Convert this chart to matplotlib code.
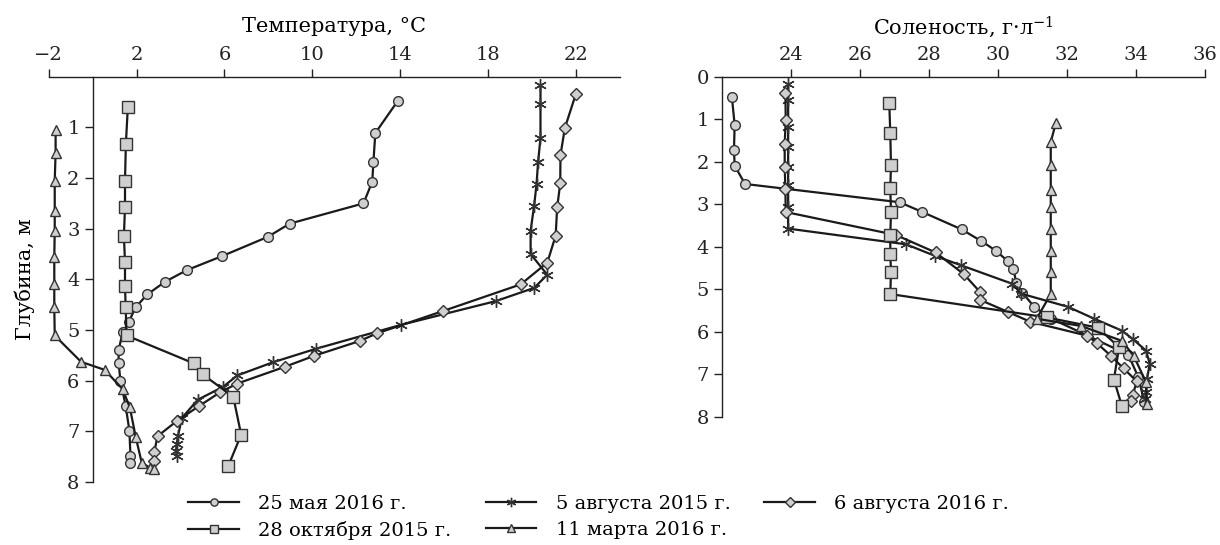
import matplotlib
matplotlib.use("Agg")
import matplotlib.pyplot as plt

plt.rcParams['font.family'] = ['DejaVu Serif']
plt.rcParams['font.size'] = 14
plt.rcParams['mathtext.fontset'] = 'dejavuserif'
plt.rcParams['axes.unicode_minus'] = True

# температура: (T, глубина)
t_may16_T = [13.9, 12.87, 12.78, 12.73, 12.33, 8.97, 7.98, 5.9, 4.28, 3.29, 2.48, 1.96, 1.63, 1.36, 1.18, 1.18, 1.26, 1.5, 1.67, 1.72, 1.72]
t_may16_d = [0.47, 1.11, 1.69, 2.07, 2.5, 2.9, 3.16, 3.54, 3.82, 4.05, 4.3, 4.55, 4.85, 5.05, 5.4, 5.65, 6.0, 6.5, 6.99, 7.5, 7.62]

t_aug15_T = [20.39, 20.39, 20.39, 20.28, 20.21, 20.1, 19.94, 19.94, 20.7, 20.1, 18.36, 14.04, 10.18, 8.2, 6.58, 5.95, 4.78, 4.06, 3.88, 3.83, 3.79, 3.83]
t_aug15_d = [0.16, 0.53, 1.2, 1.69, 2.12, 2.55, 3.04, 3.5, 3.91, 4.17, 4.43, 4.9, 5.37, 5.64, 5.9, 6.12, 6.38, 6.74, 7.1, 7.26, 7.39, 7.49]

t_aug16_T = [22.0, 21.5, 21.3, 21.29, 21.15, 21.08, 20.7, 19.49, 15.93, 12.93, 12.15, 10.09, 8.74, 6.58, 5.81, 4.82, 3.83, 2.95, 2.8, 2.77]
t_aug16_d = [0.34, 1.01, 1.55, 2.1, 2.58, 3.14, 3.67, 4.1, 4.63, 5.07, 5.22, 5.51, 5.73, 6.06, 6.23, 6.51, 6.8, 7.1, 7.42, 7.59]

t_oct15_T = [1.6, 1.51, 1.47, 1.47, 1.42, 1.47, 1.47, 1.5, 1.54, 4.6, 5.01, 6.4, 6.76, 6.18]
t_oct15_d = [0.59, 1.32, 2.05, 2.58, 3.14, 3.66, 4.13, 4.55, 5.11, 5.66, 5.88, 6.32, 7.07, 7.68]

t_mar16_T = [-1.69, -1.69, -1.73, -1.73, -1.73, -1.75, -1.75, -1.75, -1.73, -0.53, 0.55, 1.36, 1.69, 1.96, 2.23, 2.59, 2.77]
t_mar16_d = [1.05, 1.5, 2.05, 2.65, 3.04, 3.56, 4.09, 4.55, 5.11, 5.63, 5.79, 6.17, 6.53, 7.12, 7.62, 7.72, 7.75]

# соленость: (S, глубина)
s_may16_S = [22.28, 22.36, 22.34, 22.36, 22.66, 27.14, 27.8, 28.94, 29.5, 29.93, 30.28, 30.44, 30.52, 30.7, 31.04, 31.54, 33.77, 34.06, 34.23]
s_may16_d = [0.48, 1.13, 1.71, 2.09, 2.52, 2.95, 3.18, 3.59, 3.86, 4.09, 4.34, 4.53, 4.84, 5.08, 5.41, 5.69, 6.54, 7.07, 7.65]

s_aug15_S = [23.91, 23.91, 23.91, 23.91, 23.91, 23.91, 23.91, 23.91, 27.33, 28.16, 28.91, 30.41, 30.66, 32.02, 32.78, 33.58, 33.9, 34.28, 34.39, 34.31, 34.28, 34.25]
s_aug15_d = [0.18, 0.54, 1.17, 1.65, 2.12, 2.54, 3.06, 3.57, 3.94, 4.21, 4.43, 4.87, 5.1, 5.41, 5.69, 5.97, 6.17, 6.44, 6.75, 7.1, 7.42, 7.57]

s_aug16_S = [23.83, 23.84, 23.81, 23.81, 23.83, 23.84, 27.03, 28.18, 29.0, 29.48, 29.48, 30.28, 30.92, 32.58, 32.85, 33.26, 33.63, 34.01, 33.9, 33.85]
s_aug16_d = [0.37, 1.02, 1.57, 2.12, 2.64, 3.18, 3.72, 4.13, 4.64, 5.07, 5.25, 5.53, 5.76, 6.09, 6.26, 6.56, 6.86, 7.16, 7.48, 7.63]

s_oct15_S = [26.84, 26.87, 26.89, 26.87, 26.89, 26.87, 26.87, 26.89, 26.87, 31.41, 32.88, 33.5, 33.35, 33.58]
s_oct15_d = [0.62, 1.33, 2.08, 2.62, 3.18, 3.72, 4.16, 4.58, 5.11, 5.66, 5.9, 6.36, 7.12, 7.74]

s_mar16_S = [31.67, 31.52, 31.52, 31.52, 31.52, 31.52, 31.52, 31.52, 31.52, 31.11, 32.4, 33.58, 33.92, 34.28, 34.31]
s_mar16_d = [1.08, 1.53, 2.08, 2.66, 3.06, 3.57, 4.09, 4.58, 5.11, 5.69, 5.86, 6.21, 6.56, 7.18, 7.69]

labels = ['25 мая 2016 г.', '5 августа 2015 г.', '6 августа 2016 г.',
          '28 октября 2015 г.', '11 марта 2016 г.']

temp_ticks = [-2, 2, 6, 10, 14, 18, 22]
sal_ticks = [24, 26, 28, 30, 32, 34, 36]

# стили маркеров
face = '#cfcfcf'
edge = '#333333'
styles = [
    dict(marker='o', ms=7),
    dict(marker=(6, 2, 0), ms=9),
    dict(marker='D', ms=6.5),
    dict(marker='s', ms=8.5),
    dict(marker='^', ms=7.5),
]

fig = plt.figure(figsize=(12.2, 5.45), dpi=100)
ax1 = fig.add_axes([0.040, 0.116, 0.468, 0.743])
ax2 = fig.add_axes([0.592, 0.235, 0.396, 0.624])

temp_series = [(t_may16_T, t_may16_d), (t_aug15_T, t_aug15_d), (t_aug16_T, t_aug16_d),
               (t_oct15_T, t_oct15_d), (t_mar16_T, t_mar16_d)]
sal_series = [(s_may16_S, s_may16_d), (s_aug15_S, s_aug15_d), (s_aug16_S, s_aug16_d),
              (s_oct15_S, s_oct15_d), (s_mar16_S, s_mar16_d)]

handles = []
for (x, y), st, lab in zip(temp_series, styles, labels):
    h, = ax1.plot(x, y, color='#1a1a1a', lw=1.6, marker=st['marker'], ms=st['ms'],
                  mfc=face, mec=edge, mew=1.0, label=lab)
    handles.append(h)
for (x, y), st in zip(sal_series, styles):
    ax2.plot(x, y, color='#1a1a1a', lw=1.6, marker=st['marker'], ms=st['ms'],
             mfc=face, mec=edge, mew=1.0)

# левая панель
ax1.set_xlim(-2, 24)
ax1.set_ylim(8, 0)
ax1.spines['right'].set_visible(False)
ax1.spines['bottom'].set_visible(False)
ax1.spines['left'].set_position(('data', 0))
ax1.xaxis.tick_top()
ax1.xaxis.set_label_position('top')
ax1.set_xticks(temp_ticks)
ax1.set_yticks([1, 2, 3, 4, 5, 6, 7, 8])
ax1.set_xlabel('Температура, °C', labelpad=10, fontsize=15)
ax1.tick_params(direction='out', length=6, width=1, colors='#222222')
ax1.text(-3.1, 4.0, 'Глубина, м', rotation=90, ha='center', va='center', fontsize=15)

# правая панель
ax2.set_xlim(22, 36)
ax2.set_ylim(8, 0)
ax2.spines['right'].set_visible(False)
ax2.spines['bottom'].set_visible(False)
ax2.xaxis.tick_top()
ax2.xaxis.set_label_position('top')
ax2.set_xticks(sal_ticks)
ax2.set_yticks(range(9))
ax2.set_xlabel('Соленость, г·л$^{-1}$', labelpad=8, fontsize=15)
ax2.tick_params(direction='out', length=6, width=1, colors='#222222')

for ax in (ax1, ax2):
    for s in ax.spines.values():
        s.set_color('#222222')
        s.set_linewidth(1.0)

order = [0, 3, 1, 4, 2]
fig.legend([handles[i] for i in order], [labels[i] for i in order],
           loc='upper left', bbox_to_anchor=(0.140, 0.124), ncol=3, frameon=False,
           markerscale=0.75, handlelength=2.6, columnspacing=1.75, labelspacing=0.4,
           handletextpad=1.0, fontsize=14)

fig.savefig('out.png', dpi=100)
